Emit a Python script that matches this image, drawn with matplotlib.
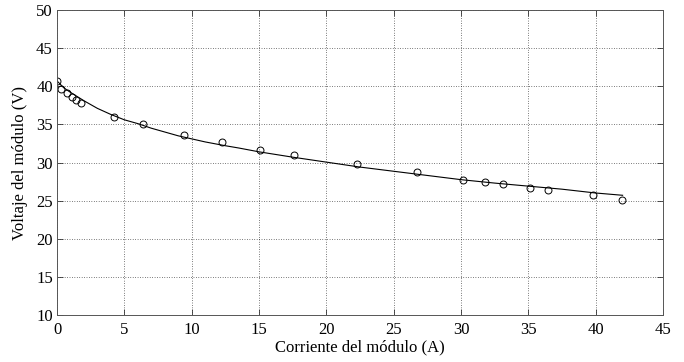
import matplotlib
matplotlib.use("Agg")
import matplotlib.pyplot as plt

# measured points
corriente = [0.0, 0.33, 0.71, 1.08, 1.41, 1.80, 4.23, 6.36, 9.41, 12.24, 15.07,
             17.6, 22.28, 26.73, 30.15, 31.79, 33.15, 35.15, 36.47, 39.8, 41.98]
voltaje = [40.67, 39.66, 39.1, 38.6, 38.19, 37.75, 35.93, 35.05, 33.58, 32.66, 31.70,
           31.04, 29.83, 28.75, 27.70, 27.39, 27.13, 26.66, 26.40, 25.69, 25.09]

# fitted curve
curva_i = [0, 0.5, 1, 2, 3, 4, 5, 6, 7, 8, 9, 10, 11, 12.5, 13.5, 15, 17.5, 20,
           22.5, 25, 27.5, 30, 32.5, 35, 37.5, 40, 42]
curva_v = [40.7, 39.8, 39.2, 38.1, 37.1, 36.3, 35.6, 35.1, 34.5, 34.0, 33.5, 33.1,
           32.7, 32.2, 31.9, 31.4, 30.7, 30.05, 29.4, 28.85, 28.3, 27.75, 27.3,
           26.9, 26.5, 26.0, 25.7]

xticks = [0, 5, 10, 15, 20, 25, 30, 35, 40, 45]
yticks = [10, 15, 20, 25, 30, 35, 40, 45, 50]

plt.rcParams['font.family'] = ['Liberation Serif', 'DejaVu Serif']
plt.rcParams['font.size'] = 12

fig = plt.figure(figsize=(6.84, 3.62), dpi=100)
ax = fig.add_axes([57/684, 1 - 315/362, (663 - 57)/684, (315 - 10)/362])

ax.plot(curva_i, curva_v, color='black', lw=0.8)
ax.plot(corriente, voltaje, linestyle='none', marker='o', markersize=5,
        markerfacecolor='none', markeredgecolor='black', markeredgewidth=0.7)

ax.set_xlim(0, 45)
ax.set_ylim(10, 50)
ax.set_xticks(xticks)
ax.set_yticks(yticks)
ax.tick_params(direction='in', top=True, right=True, length=4, width=0.6,
               colors='#333333', labelcolor='black')
ax.tick_params(axis='x', pad=5)
ax.tick_params(axis='y', pad=3)
for s in ax.spines.values():
    s.set_linewidth(0.7)
    s.set_color('#555555')
ax.grid(True, linestyle=(0, (1, 2.5)), color='black', linewidth=0.5)
ax.set_xlabel('Corriente del módulo (A)', labelpad=1)
ax.set_ylabel('Voltaje del módulo (V)', labelpad=6)

fig.savefig('out.png', dpi=100)
